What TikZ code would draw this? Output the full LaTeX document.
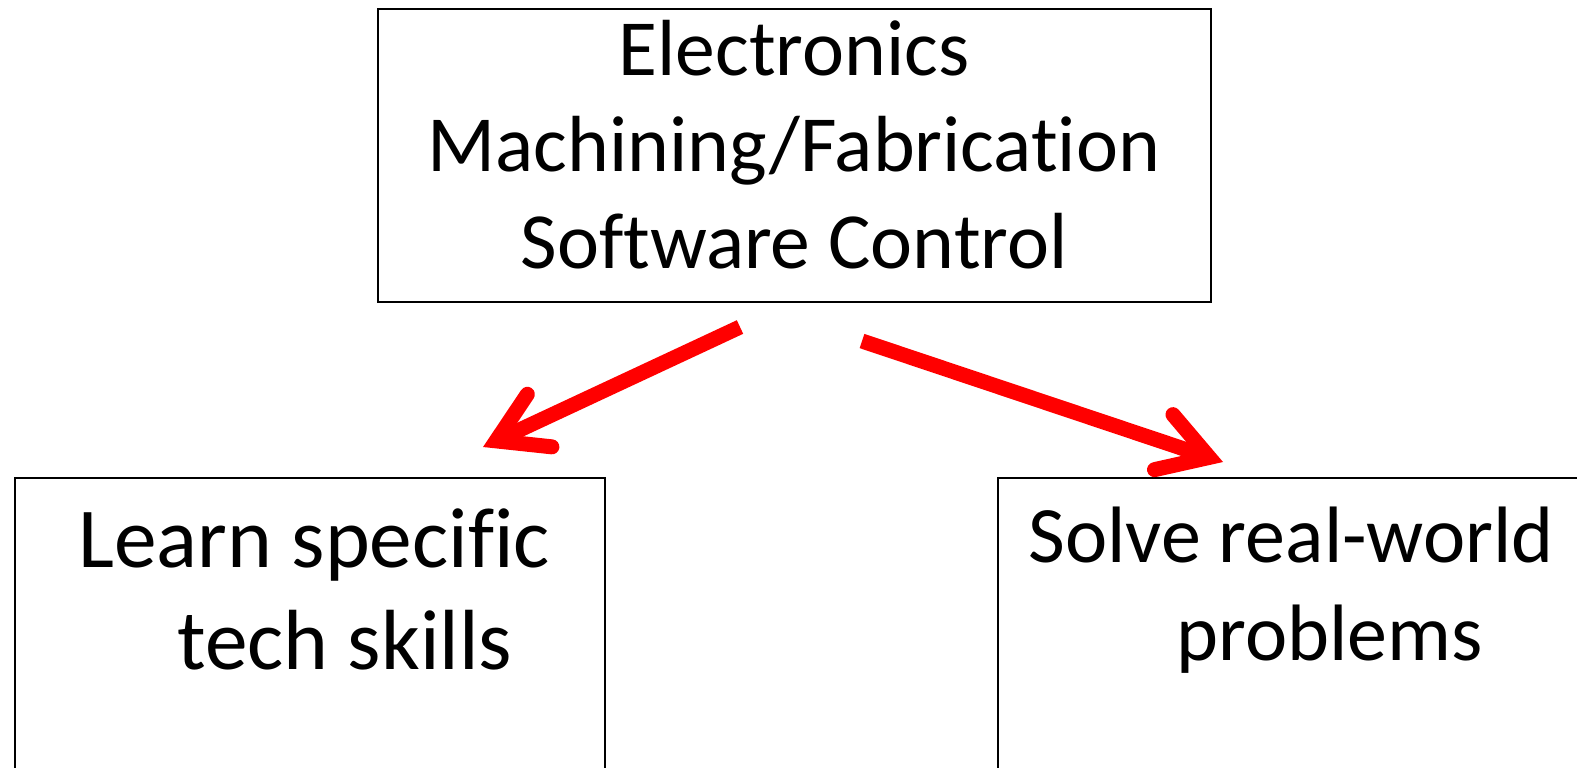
\documentclass[tikz,border=0pt]{standalone}
\usepackage{fontspec}
\setmainfont{Carlito}[Ligatures=NoCommon]
\usetikzlibrary{arrows.meta}
\tikzset{
  framebox/.style={draw, line width=0.8pt, rectangle, inner sep=0pt, anchor=north west},
  toptext/.style={inner sep=0pt, align=center, font=\fontsize{39.8}{48.25}\selectfont},
  boxtext/.style={inner sep=0pt, align=left, anchor=base west},
  redarrow/.style={draw=red, line width=7.5pt, -{Straight Barb[length=24pt,width=29pt,line cap=round,line join=miter]}}
}
\begin{document}
\begin{tikzpicture}[x=0.5pt,y=0.5pt,yscale=-1,xscale=1]
	\clip (0,0) rectangle (1577,767); %page is 1577 by 767
	
	%Top box
	\node[framebox, minimum width=416.5pt, minimum height=146.5pt] (tools) at (377,8) {};
	\node[toptext, anchor=base] (toolstext) at (794,268) {Electronics\\Machining/Fabrication\\Software Control};
	
	%Bottom boxes, cut by the page edge
	\node[framebox, minimum width=295pt, minimum height=211.5pt] (skills) at (14,477) {};
	\node[boxtext, font=\fontsize{42.7}{51}\selectfont] (skillstext) at (78,669) {Learn specific\\\hspace*{49.5pt}tech skills};
	\node[framebox, minimum width=351.5pt, minimum height=211.5pt] (problems) at (997,477) {};
	\node[boxtext, font=\fontsize{40}{49}\selectfont] (problemstext) at (1028,660) {Solve real-world\\\hspace*{74pt}problems};
	
	%Arrows
	\coordinate (lstart) at (740,327);
	\coordinate (ltip) at (483,447);
	\coordinate (rstart) at (862,341);
	\coordinate (rtip) at (1223,462);
	\draw[redarrow] (lstart) -- (ltip);
	\draw[redarrow] (rstart) -- (rtip);
	
\end{tikzpicture}
\end{document}
